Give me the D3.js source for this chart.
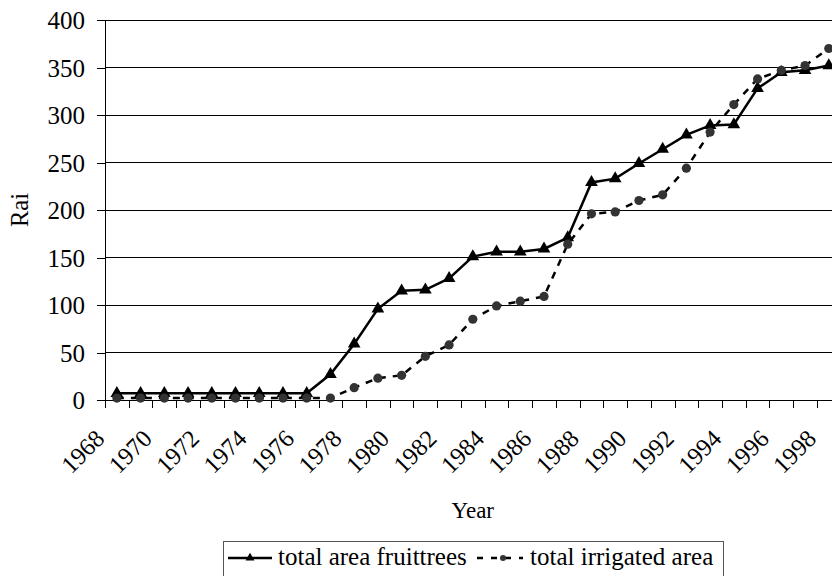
<!DOCTYPE html>
<html>
<head>
<meta charset="utf-8">
<script src="https://cdn.jsdelivr.net/npm/d3@7"></script>
<style>
  body { margin: 0; background: #fff; }
  svg text { font-family: "Liberation Serif", "Times New Roman", serif; fill: #000; }
</style>
</head>
<body>
<div id="chart"></div>
<script>
(function (d3) {
    'use strict';

    // Data.
    var years = d3.range(1968, 1999);
    var fruitTrees = [7, 7, 7, 7, 7, 7, 7, 7, 7, 27, 59, 96, 115, 116, 128, 151, 156, 156, 159, 171,
        229, 233, 249, 264, 279, 289, 290, 328, 345, 347, 352];
    var irrigated = [2, 2, 2, 2, 2, 2, 2, 2, 2, 2, 13, 23, 26, 46, 58, 85, 99, 104, 109, 164,
        196, 198, 210, 216, 244, 282, 311, 338, 347, 352, 370];
    var yTicks = [0, 50, 100, 150, 200, 250, 300, 350, 400];
    var xLabels = d3.range(1968, 1999, 2);

    // Dimensions of the chart.
    var W = 832, H = 576;
    var left = 105, top = 20, bottom = 400;
    var step = 23.73;
    var right = left + step * years.length;

    var svg = d3.select('#chart').append('svg')
        .attr('width', W)
        .attr('height', H);

    var x = d3.scaleBand().domain(years).range([left, right]).padding(0);
    var edge = d3.scaleLinear().domain([0, years.length]).range([left, right]);
    var y = d3.scaleLinear().domain([0, 400]).range([bottom, top]);

    function cx(i) { return x(years[i]) + x.bandwidth() / 2; }

    // Gridlines
    svg.append('g')
        .selectAll('line')
        .data(yTicks)
        .enter().append('line')
        .attr('x1', left).attr('x2', right)
        .attr('y1', function (d) { return y(d); })
        .attr('y2', function (d) { return y(d); })
        .attr('stroke', '#000')
        .attr('stroke-width', 1)
        .attr('shape-rendering', 'crispEdges');

    // Y axis
    var yAxis = svg.append('g')
        .attr('transform', 'translate(' + left + ',0)')
        .call(d3.axisLeft(y).tickValues(yTicks).tickSize(8).tickPadding(12));
    yAxis.selectAll('path, line').attr('stroke', '#000').attr('shape-rendering', 'crispEdges');
    yAxis.selectAll('text')
        .attr('dy', '0.34em')
        .style('font-size', '25px')
        .style('font-family', '"Liberation Serif", serif');

    // X axis (ticks between categories)
    var xAxis = svg.append('g')
        .attr('transform', 'translate(0,' + bottom + ')')
        .call(d3.axisBottom(edge).tickValues(d3.range(0, years.length + 1)).tickSize(8).tickFormat(''));
    xAxis.select('.domain').attr('d', 'M' + left + ',0H' + right);
    xAxis.selectAll('path, line').attr('stroke', '#000').attr('shape-rendering', 'crispEdges');

    svg.append('g')
        .selectAll('text')
        .data(xLabels)
        .enter().append('text')
        .attr('transform', function (d) {
            var px = x(d) + x.bandwidth() / 2 - 11;
            return 'translate(' + px + ',' + 440 + ') rotate(-45)';
        })
        .attr('text-anchor', 'end')
        .style('font-size', '24.5px')
        .text(function (d) { return d; });

    // Axis titles
    svg.append('text')
        .attr('transform', 'translate(28,210) rotate(-90)')
        .attr('text-anchor', 'middle')
        .style('font-size', '24.5px')
        .text('Rai');

    svg.append('text')
        .attr('x', (left + right) / 2)
        .attr('y', 518)
        .attr('text-anchor', 'middle')
        .style('font-size', '23px')
        .text('Year');

    // Lines
    var line = d3.line()
        .x(function (d, i) { return cx(i); })
        .y(function (d) { return y(d); });

    svg.append('path')
        .datum(irrigated)
        .attr('fill', 'none')
        .attr('stroke', '#000')
        .attr('stroke-width', 2.5)
        .attr('stroke-dasharray', '7,7')
        .attr('d', line);

    svg.append('path')
        .datum(fruitTrees)
        .attr('fill', 'none')
        .attr('stroke', '#000')
        .attr('stroke-width', 2.5)
        .attr('d', line);

    var tri = d3.symbol().type(d3.symbolTriangle).size(70);

    svg.append('g')
        .selectAll('path')
        .data(fruitTrees)
        .enter().append('path')
        .attr('d', tri)
        .attr('transform', function (d, i) { return 'translate(' + cx(i) + ',' + y(d) + ')'; })
        .attr('fill', '#000');

    svg.append('g')
        .selectAll('circle')
        .data(irrigated)
        .enter().append('circle')
        .attr('cx', function (d, i) { return cx(i); })
        .attr('cy', function (d) { return y(d); })
        .attr('r', 4.6)
        .attr('fill', '#333');

    // Legend
    var legend = svg.append('g');
    legend.append('rect')
        .attr('x', 223.5).attr('y', 541.5)
        .attr('width', 500).attr('height', 40)
        .attr('fill', '#fff')
        .attr('stroke', '#555')
        .attr('stroke-width', 1);

    var ly = 558;
    legend.append('line')
        .attr('x1', 228).attr('x2', 272).attr('y1', ly).attr('y2', ly)
        .attr('stroke', '#000').attr('stroke-width', 2.5);
    legend.append('path')
        .attr('d', d3.symbol().type(d3.symbolTriangle).size(35))
        .attr('transform', 'translate(250,' + ly + ')');
    legend.append('text')
        .attr('x', 278).attr('y', ly + 7)
        .style('font-size', '25px')
        .text('total area fruittrees');

    legend.append('line')
        .attr('x1', 477).attr('x2', 523).attr('y1', ly).attr('y2', ly)
        .attr('stroke', '#000').attr('stroke-width', 2.5)
        .attr('stroke-dasharray', '6,8');
    legend.append('circle')
        .attr('cx', 503).attr('cy', ly).attr('r', 3)
        .attr('fill', '#333');
    legend.append('text')
        .attr('x', 530).attr('y', ly + 7)
        .style('font-size', '25px')
        .text('total irrigated area');

})(d3);
</script>
</body>
</html>
